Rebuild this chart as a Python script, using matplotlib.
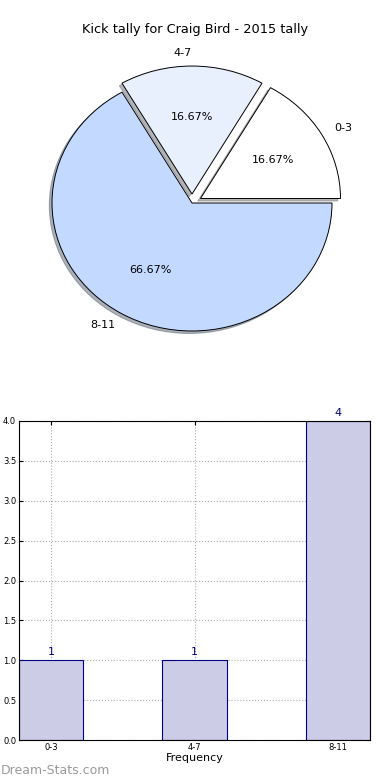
import matplotlib
matplotlib.use('Agg')
import matplotlib.pyplot as plt

# DATA
labels = ['0-3', '4-7', '8-11']
counts = [1, 1, 4]
pie_colors = ['#ffffff', '#e8f0fe', '#c4d9ff']
explode = [0.07, 0.07, 0.0]

W, H = 390, 780
fig = plt.figure(figsize=(W / 100, H / 100), dpi=100)

# PIE (old-style, not forced circular)
ax1 = fig.add_axes([17 / W, 417 / H, 350 / W, 320 / H])
wedges, texts, autotexts = ax1.pie(
    counts, labels=labels, colors=pie_colors, explode=explode,
    autopct='%.2f%%', startangle=0,
    shadow={'ox': -0.014, 'oy': -0.014, 'shade': 0.55},
    wedgeprops={'edgecolor': 'black', 'linewidth': 0.7},
    textprops={'fontsize': 8})
ax1.set_aspect('auto')
ax1.set_xlim(-1.25, 1.25)
ax1.set_ylim(-1.25, 1.25)
ax1.axis('off')
fig.text(0.5, 1 - 30 / H, 'Kick tally for Craig Bird - 2015 tally',
         ha='center', va='center', fontsize=9.3)

# BAR CHART
ax2 = fig.add_axes([19 / W, 40 / H, 351 / W, 319 / H])
x = range(len(labels))
bars = ax2.bar(x, counts, width=0.45, color='#ccccE6', edgecolor='navy', linewidth=0.8)
for xi, c in zip(x, counts):
    ax2.text(xi, c + 0.04, str(c), ha='center', va='bottom', color='navy', fontsize=8)
ax2.set_xlim(-0.225, 2.225)
ax2.set_ylim(0, 4)
ax2.set_xticks(list(x))
ax2.set_xticklabels(labels)
yt = [0, 0.5, 1, 1.5, 2, 2.5, 3, 3.5, 4]
ax2.set_yticks(yt)
ax2.set_yticklabels(['%.1f' % v for v in yt])
ax2.tick_params(labelsize=6, direction='in', top=True, right=True, length=3, pad=2)
ax2.grid(True, linestyle=':', color='#aaaaaa', linewidth=0.8)
ax2.set_axisbelow(True)
ax2.set_xlabel('Frequency', fontsize=8, labelpad=1)

fig.text(1 / W, 1 - 770 / H, 'Dream-Stats.com', color='#999999',
         fontsize=9, ha='left', va='center')

fig.savefig('out.png', dpi=100)
